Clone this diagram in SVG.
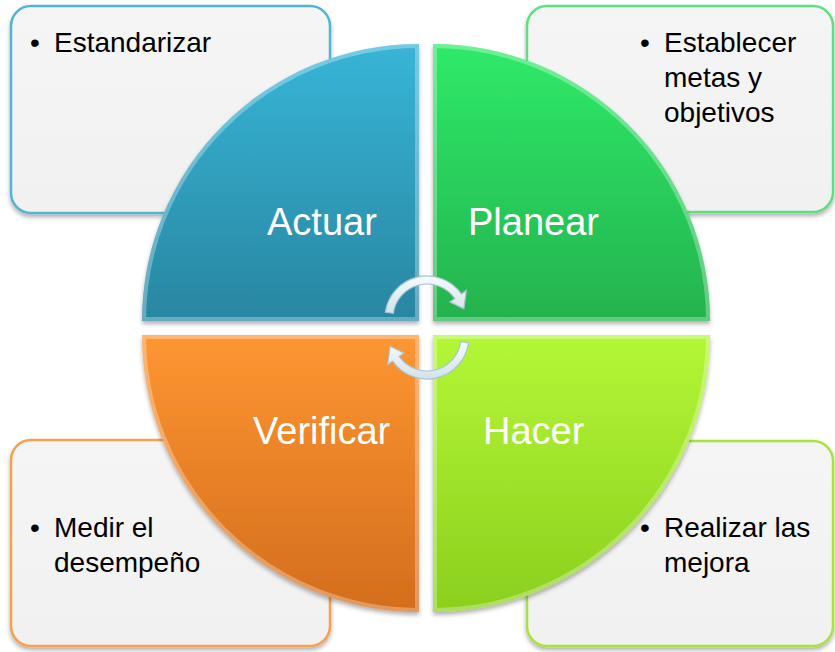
<svg xmlns="http://www.w3.org/2000/svg" width="835" height="652" viewBox="0 0 835 652">
<defs>
<style>
.box{fill:url(#boxg);stroke-width:2.5}
.bt{font-family:"Liberation Sans",Arial,sans-serif;font-size:28px;fill:#000}
.lbl{font-family:"Liberation Sans",Arial,sans-serif;font-size:38px;fill:#fff}
.bev{fill:none;stroke:#fff;stroke-opacity:0.3;stroke-width:8}
.arr{fill:url(#arrg);stroke:#a9c3d2;stroke-width:1.2}
</style>
<linearGradient id="boxg" x1="0" y1="0" x2="0" y2="1"><stop offset="0" stop-color="#f5f5f5"/><stop offset="1" stop-color="#f1f1f1"/></linearGradient>
<linearGradient id="gA" gradientUnits="userSpaceOnUse" x1="0" y1="44" x2="0" y2="321"><stop offset="0" stop-color="#38b5d7"/><stop offset="1" stop-color="#2886a1"/></linearGradient>
<linearGradient id="gP" gradientUnits="userSpaceOnUse" x1="0" y1="44" x2="0" y2="321"><stop offset="0" stop-color="#2fea69"/><stop offset="1" stop-color="#24b24e"/></linearGradient>
<linearGradient id="gV" gradientUnits="userSpaceOnUse" x1="0" y1="335" x2="0" y2="612"><stop offset="0" stop-color="#fe9632"/><stop offset="1" stop-color="#d36d1d"/></linearGradient>
<linearGradient id="gH" gradientUnits="userSpaceOnUse" x1="0" y1="335" x2="0" y2="612"><stop offset="0" stop-color="#b4f737"/><stop offset="1" stop-color="#8bcf1e"/></linearGradient>
<linearGradient id="arrg" x1="0" y1="0" x2="0" y2="1"><stop offset="0" stop-color="#f6fafc"/><stop offset="1" stop-color="#d3e3eb"/></linearGradient>
<filter id="sh" x="-10%" y="-10%" width="120%" height="125%"><feDropShadow dx="0" dy="3" stdDeviation="2" flood-color="#000" flood-opacity="0.3"/></filter>
<clipPath id="cA"><path d="M419 321 L142 321 A277 277 0 0 1 419 44 Z"/></clipPath>
<clipPath id="cP"><path d="M433 321 L433 44 A277 277 0 0 1 710 321 Z"/></clipPath>
<clipPath id="cV"><path d="M419 335 L419 612 A277 277 0 0 1 142 335 Z"/></clipPath>
<clipPath id="cH"><path d="M433 335 L710 335 A277 277 0 0 1 433 612 Z"/></clipPath>
</defs>
<rect width="835" height="652" fill="#fff"/>

<g id="box-actuar">
<rect class="box" x="11" y="6" width="319" height="207" rx="20" stroke="#55b5d0" filter="url(#sh)"/>
<text class="bt" x="30" y="52">•</text><text class="bt" x="54" y="52">Estandarizar</text>
</g>
<g id="box-planear">
<rect class="box" x="527" y="6" width="306" height="206" rx="20" stroke="#5fdf7e" filter="url(#sh)"/>
<text class="bt" x="640" y="52">•</text>
<text class="bt"><tspan x="664" y="52">Establecer</tspan><tspan x="664" y="87">metas y</tspan><tspan x="664" y="122">objetivos</tspan></text>
</g>
<g id="box-verificar">
<rect class="box" x="11" y="440" width="319" height="206" rx="20" stroke="#f8a04e" filter="url(#sh)"/>
<text class="bt" x="30" y="537">•</text>
<text class="bt"><tspan x="54" y="537">Medir el</tspan><tspan x="54" y="572">desempeño</tspan></text>
</g>
<g id="box-hacer">
<rect class="box" x="527" y="441" width="306" height="205" rx="20" stroke="#a6e43e" filter="url(#sh)"/>
<text class="bt" x="640" y="537">•</text>
<text class="bt"><tspan x="664" y="537">Realizar las</tspan><tspan x="664" y="572">mejora</tspan></text>
</g>

<g id="q-actuar">
<path d="M419 321 L142 321 A277 277 0 0 1 419 44 Z" fill="url(#gA)" filter="url(#sh)"/>
<path class="bev" clip-path="url(#cA)" d="M419 321 L142 321 A277 277 0 0 1 419 44 Z"/>
<text class="lbl" x="267" y="235">Actuar</text>
</g>
<g id="q-planear">
<path d="M433 321 L433 44 A277 277 0 0 1 710 321 Z" fill="url(#gP)" filter="url(#sh)"/>
<path class="bev" clip-path="url(#cP)" d="M433 321 L433 44 A277 277 0 0 1 710 321 Z"/>
<text class="lbl" x="468" y="235">Planear</text>
</g>
<g id="q-verificar">
<path d="M419 335 L419 612 A277 277 0 0 1 142 335 Z" fill="url(#gV)" filter="url(#sh)"/>
<path class="bev" clip-path="url(#cV)" d="M419 335 L419 612 A277 277 0 0 1 142 335 Z"/>
<text class="lbl" x="253" y="444">Verificar</text>
</g>
<g id="q-hacer">
<path d="M433 335 L710 335 A277 277 0 0 1 433 612 Z" fill="url(#gH)" filter="url(#sh)"/>
<path class="bev" clip-path="url(#cH)" d="M433 335 L710 335 A277 277 0 0 1 433 612 Z"/>
<text class="lbl" x="483" y="444">Hacer</text>
</g>

<g id="connectors">
<path class="arr" d="M385.4 312.2 A42 42 0 0 1 461.4 293.9 L466.3 290.4 L463.9 308.8 L449.9 301.9 L454.8 298.5 A34 34 0 0 0 393.3 313.3 Z"/>
<path class="arr" d="M468.6 342.8 A42 42 0 0 1 392.6 361.1 L387.7 364.6 L390.1 346.2 L404.1 353.1 L399.2 356.5 A34 34 0 0 0 460.7 341.7 Z"/>
</g>
</svg>
